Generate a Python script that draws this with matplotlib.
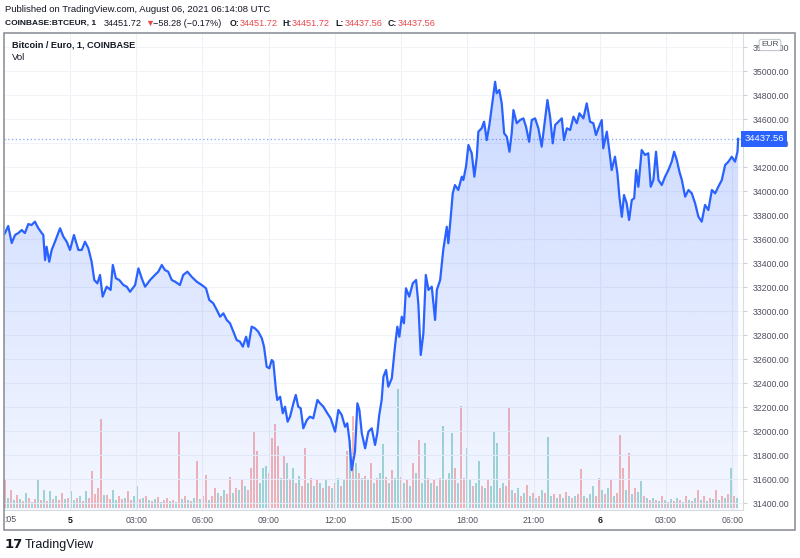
import numpy as np
import pandas as pd
import matplotlib
matplotlib.use("Agg")
import matplotlib.pyplot as plt
from matplotlib.colors import LinearSegmentedColormap
from matplotlib.patches import Rectangle
from matplotlib.transforms import blended_transform_factory

plt.rcParams['font.family'] = ['Liberation Sans', 'DejaVu Sans']

# BTC/EUR 1-min close (hours since 2021-08-05 00:00 UTC)
price_hours = [
    -2.99, -2.95, -2.80, -2.64, -2.49, -2.34, -2.19, -2.04, -1.89, -1.74, -1.59, -1.44, -1.28, -1.21,
    -1.13, -1.06, -0.94, -0.83, -0.68, -0.45, -0.30, -0.15, 0.00, 0.18, 0.38, 0.53, 0.68, 0.83, 0.98,
    1.10, 1.24, 1.36, 1.48, 1.66, 1.84, 1.94, 2.08, 2.23, 2.42, 2.57, 2.72, 2.95, 3.10, 3.25, 3.40,
    3.63, 3.85, 4.00, 4.16, 4.30, 4.45, 4.61, 4.76, 4.98, 5.13, 5.32, 5.51, 5.74, 5.97, 6.16, 6.31,
    6.49, 6.65, 6.80, 6.95, 7.10, 7.25, 7.40, 7.55, 7.70, 7.83, 7.98, 8.08, 8.23, 8.38, 8.53, 8.69,
    8.79, 8.91, 9.03, 9.14, 9.21, 9.33, 9.39, 9.52, 9.64, 9.74, 9.86, 9.97, 10.12, 10.23, 10.34,
    10.45, 10.57, 10.73, 10.87, 11.02, 11.21, 11.33, 11.48, 11.66, 11.81, 12.01, 12.16, 12.31, 12.46,
    12.56, 12.66, 12.76, 12.84, 12.91, 13.02, 13.11, 13.22, 13.37, 13.52, 13.67, 13.82, 13.92, 14.01,
    14.12, 14.20, 14.32, 14.42, 14.58, 14.73, 14.83, 14.92, 15.03, 15.13, 15.22, 15.37, 15.53, 15.68,
    15.78, 15.89, 16.01, 16.12, 16.24, 16.39, 16.54, 16.62, 16.77, 16.91, 17.07, 17.14, 17.25, 17.34,
    17.44, 17.59, 17.75, 17.82, 17.94, 18.05, 18.20, 18.32, 18.43, 18.50, 18.65, 18.76, 18.88, 19.00,
    19.11, 19.26, 19.33, 19.45, 19.56, 19.67, 19.79, 19.91, 20.01, 20.09, 20.24, 20.39, 20.54, 20.66,
    20.80, 20.92, 21.07, 21.22, 21.37, 21.49, 21.63, 21.75, 21.87, 21.98, 22.13, 22.28, 22.38, 22.51,
    22.66, 22.81, 22.96, 23.08, 23.26, 23.41, 23.56, 23.71, 23.83, 23.94, 24.09, 24.16, 24.32, 24.44,
    24.54, 24.69, 24.80, 24.89, 25.00, 25.10, 25.22, 25.33, 25.45, 25.56, 25.65, 25.75, 25.90, 26.05,
    26.20, 26.31, 26.43, 26.55, 26.66, 26.81, 26.96, 27.11, 27.26, 27.37, 27.49, 27.61, 27.72, 27.87,
    28.02, 28.17, 28.32, 28.47, 28.62, 28.77, 28.92, 29.08, 29.23, 29.37, 29.53, 29.68, 29.83, 29.98,
    30.13, 30.24, 30.27,
]
price_close = [
    33640, 33650, 33711, 33569, 33636, 33652, 33677, 33652, 33727, 33719, 33747, 33694, 33652, 33636,
    33427, 33538, 33413, 33511, 33580, 33692, 33622, 33580, 33511, 33636, 33511, 33511, 33580, 33525, 33413,
    33261, 33233, 33303, 33122, 33205, 33178, 33386, 33275, 33261, 33219, 33205, 33163, 33219, 33358, 33275, 33205,
    33261, 33303, 33330, 33386, 33344, 33330, 33261, 33247, 33219, 33303, 33330, 33288, 33247, 33219, 33192, 33094,
    33067, 33011, 32955, 32983, 32928, 32900, 32830, 32761, 32747, 32705, 32788, 32705, 32872, 32858, 32830, 32775,
    32705, 32538, 32525, 32594, 32580, 32344, 32261, 32288, 32150, 32205, 32080, 32122, 32233, 32303, 32205,
    32192, 32025, 32094, 32122, 32108, 32261, 32233, 32205, 32150, 32108, 31997, 32178, 32136, 32038,
    32067, 31927, 31677, 31761, 31830, 32233, 32178, 31983, 31858, 31997, 32025, 31886, 31983, 32136,
    32261, 32455, 32511, 32372, 32442, 32719, 32872, 32788, 32955, 32900, 33192, 33122, 33233, 33261,
    33067, 32636, 32817, 33303, 33178, 33205, 32928, 33178, 33261, 33511, 33705, 33567, 33788, 33983,
    34052, 34011, 34122, 34094, 34205, 34386, 34317, 34122, 34288, 34497, 34525, 34580, 34427, 34553,
    34705, 34913, 34817, 34844, 34733, 34483, 34455, 34330, 34483, 34677, 34567, 34594, 34608, 34538,
    34413, 34594, 34608, 34525, 34372, 34553, 34761, 34622, 34400, 34553, 34580, 34608, 34427, 34525,
    34511, 34622, 34567, 34650, 34608, 34733, 34580, 34567, 34469, 34525, 34594, 34358, 34497, 34330,
    34177, 34288, 34150, 33955, 33788, 33969, 33900, 33761, 33927, 33942, 34177, 34038, 34344, 34303,
    34317, 34038, 34094, 34330, 34094, 34052, 34122, 34177, 34247, 34330, 34261, 34163, 34094, 33955,
    34011, 33983, 33900, 33788, 33747, 33886, 33844, 34011, 33983, 34038, 34094, 34219, 34247, 34288,
    34247, 34330, 34437.56,
]

# volume (arbitrary units) sampled about every 8 minutes, g = up bar, r = down bar
volume = [
    28, 10, 18, 8, 13, 9, 7, 15, 10, 6,
    9, 28, 8, 18, 7, 17, 9, 12, 8, 15,
    9, 10, 17, 8, 10, 12, 7, 17, 10, 37,
    14, 20, 89, 13, 13, 9, 18, 8, 12, 9,
    10, 17, 8, 12, 22, 9, 10, 12, 8, 7,
    9, 11, 6, 8, 10, 7, 8, 6, 77, 9,
    12, 8, 7, 10, 47, 9, 12, 33, 8, 12,
    20, 15, 12, 18, 14, 31, 15, 20, 18, 28,
    22, 18, 40, 77, 57, 25, 40, 42, 35, 70,
    84, 62, 30, 52, 45, 28, 40, 25, 32, 22,
    60, 25, 30, 22, 28, 25, 20, 28, 22, 20,
    25, 30, 22, 28, 57, 68, 92, 45, 35, 30,
    32, 28, 45, 25, 30, 35, 64, 31, 25, 38,
    30, 119, 31, 25, 28, 22, 45, 35, 68, 25,
    65, 30, 25, 28, 22, 30, 82, 28, 35, 75,
    40, 25, 102, 30, 60, 28, 22, 25, 47, 22,
    20, 28, 22, 77, 65, 20, 25, 22, 101, 18,
    15, 20, 12, 15, 23, 12, 15, 10, 12, 18,
    15, 71, 12, 14, 10, 14, 10, 16, 12, 10,
    12, 14, 39, 12, 10, 14, 22, 12, 30, 18,
    14, 20, 29, 12, 15, 73, 40, 18, 55, 14,
    20, 16, 27, 12, 10, 8, 10, 8, 7, 12,
    8, 6, 9, 7, 10, 8, 6, 12, 8, 7,
    10, 18, 8, 12, 7, 10, 9, 18, 8, 12,
    10, 14, 40, 12, 10,
]
volume_dir = [
    "rgrgrgrgrg", "rgrgrgrgrr", "grggrgrgrr", "rrrgrrggrr", "grrggrgrgr",
    "grgrrgrgrg", "rgrgrgrrgr", "rgrgrrgrgr", "grrrrgggrr", "rrgrgrgrgr",
    "rgrgrgrgrg", "rgrgrgrgrg", "rgrgrggrgr", "ggrgrgrgrg", "grgrgrgrgg",
    "rgrrggrggr", "grgggrgrrg", "rgrgrgrgrg", "rggrgrgrgr", "grrgrggrrg",
    "rgrgrrrgrg", "rggrgrgrgr", "grgrgrgrgr", "grgrgrgrgr", "grgrg",
]
vol_times = pd.date_range("2021-08-04 21:03", "2021-08-06 06:13", periods=len(volume))

price_ticks = list(range(31400, 35201, 200))
time_tick_hours = [0, 3, 6, 9, 12, 15, 18, 21, 24, 27, 30]
time_tick_labels = ["5", "03:00", "06:00", "09:00", "12:00", "15:00", "18:00", "21:00", "6", "03:00", "06:00"]
last_price = 34437.56

W, H = 800, 558
fig = plt.figure(figsize=(W / 100, H / 100), dpi=100)
fig.patch.set_facecolor("white")


def fx(px):
    return px / W


def fy(py):
    return 1 - py / H


rect = [fx(4), fy(510), fx(743) - fx(4), fy(34) - fy(510)]
x0, x1 = -2.99, 30.49
y0, y1 = 31344, 35311
txt = "#131722"
axis_txt = "#50535e"

# volume pane (behind price)
axv = fig.add_axes(rect)
vh = (vol_times - pd.Timestamp("2021-08-05")).total_seconds() / 3600
dirs = "".join(volume_dir)
cols = ["#26a69a" if c == "g" else "#ef5350" for c in dirs]
axv.bar(vh, volume, width=0.075, color=cols, alpha=0.42, linewidth=0)
axv.set_xlim(x0, x1)
axv.set_ylim(-2, 474)
axv.axis("off")

ax = fig.add_axes(rect)
ax.patch.set_visible(False)
ax.set_xlim(x0, x1)
ax.set_ylim(y0, y1)

# gradient area under the line
poly = ax.fill_between(price_hours, price_close, y0, color="none", linewidth=0)
cmap = LinearSegmentedColormap.from_list(
    "area", [(41 / 255, 98 / 255, 1, 0.05), (41 / 255, 98 / 255, 1, 0.24)])
grad = np.linspace(0, 1, 256).reshape(-1, 1)
img = ax.imshow(grad, extent=[x0, x1, y0, max(price_close)], origin="lower",
                aspect="auto", cmap=cmap, zorder=1)
img.set_clip_path(poly.get_paths()[0], transform=ax.transData)
ax.set_xlim(x0, x1)
ax.set_ylim(y0, y1)

ax.plot(price_hours, price_close, color="#2962ff", lw=1.6, zorder=3, solid_joinstyle="round")
ax.axhline(last_price, color="#2962ff", lw=0.9, ls=(0, (1, 2)), alpha=0.6, zorder=2)

# grid
for h in time_tick_hours:
    ax.axvline(h, color="#eef1f6", lw=0.8, zorder=0)
for p in price_ticks:
    ax.axhline(p, color="#f0f3f8", lw=0.8, zorder=0)

for s in ["top", "left"]:
    ax.spines[s].set_visible(False)
ax.spines["right"].set_color("#d8dbe2")
ax.spines["bottom"].set_color("#d8dbe2")

ax.yaxis.tick_right()
ax.set_yticks(price_ticks)
ax.set_yticklabels([f"{p:.2f}" for p in price_ticks])
ax.tick_params(axis="y", length=3, color="#d0d3da", pad=4, labelsize=6.3, labelcolor=axis_txt)
ax.set_xticks(time_tick_hours)
ax.set_xticklabels(time_tick_labels)
ax.tick_params(axis="x", length=0, pad=4, labelsize=6.3, labelcolor=axis_txt)
for lab in ax.get_xticklabels():
    if lab.get_text() in ("5", "6"):
        lab.set_fontweight("bold")
        lab.set_color(txt)

# last price label
tr = blended_transform_factory(ax.transAxes, ax.transData)
ax.text(1.002, last_price, f"{last_price:.2f}", transform=tr, ha="left", va="center",
        color="white", fontsize=6.8, zorder=10, clip_on=False,
        bbox=dict(boxstyle="square,pad=0.35", fc="#2962ff", ec="none"))

# outer frame
fig.patches.append(Rectangle((fx(4), fy(530)), fx(795) - fx(4), fy(33) - fy(530),
                             transform=fig.transFigure, fill=False, ec="#8f9299", lw=1.2))

fig.text(fx(10), fy(519), ":05", fontsize=6.3, color=axis_txt, ha="center", va="center")
fig.text(fx(770), fy(45), "EUR", fontsize=6, color=axis_txt, ha="center", va="center",
         bbox=dict(boxstyle="round,pad=0.25", fc="white", ec="#c5c8cf", lw=0.8))

# header
fig.text(fx(5), fy(9), "Published on TradingView.com, August 06, 2021 06:14:08 UTC",
         fontsize=6.8, color=txt, va="center")
red = "#e8474c"
hdr = [
    (5, "COINBASE:BTCEUR, 1", txt, "bold", 6.0),
    (104, "34451.72", txt, "normal", 6.6),
    (145, "\u25bc", red, "normal", 6.6),
    (153, "\u221258.28 (\u22120.17%)", txt, "normal", 6.6),
    (230, "O:", txt, "bold", 6.3),
    (240, "34451.72", red, "normal", 6.6),
    (282, "H:", txt, "bold", 6.3),
    (292, "34451.72", red, "normal", 6.6),
    (335, "L:", txt, "bold", 6.3),
    (345, "34437.56", red, "normal", 6.6),
    (388, "C:", txt, "bold", 6.3),
    (398, "34437.56", red, "normal", 6.6),
]
for x, s, c, w, fs in hdr:
    fig.text(fx(x), fy(23), s, fontsize=fs, color=c, fontweight=w, va="center")

fig.text(fx(12), fy(45), "Bitcoin / Euro, 1, COINBASE", fontsize=6.6, fontweight="bold",
         color=txt, va="center")
fig.text(fx(12), fy(57), "Vol", fontsize=6.8, color=txt, va="center")

# footer logo
fig.text(fx(5), fy(545), "17", fontsize=9.5, fontweight="bold", color=txt, va="center",
         family=["DejaVu Sans"])
fig.text(fx(25), fy(545), "TradingView", fontsize=9, color=txt, va="center")

fig.savefig("out.png", dpi=100)
